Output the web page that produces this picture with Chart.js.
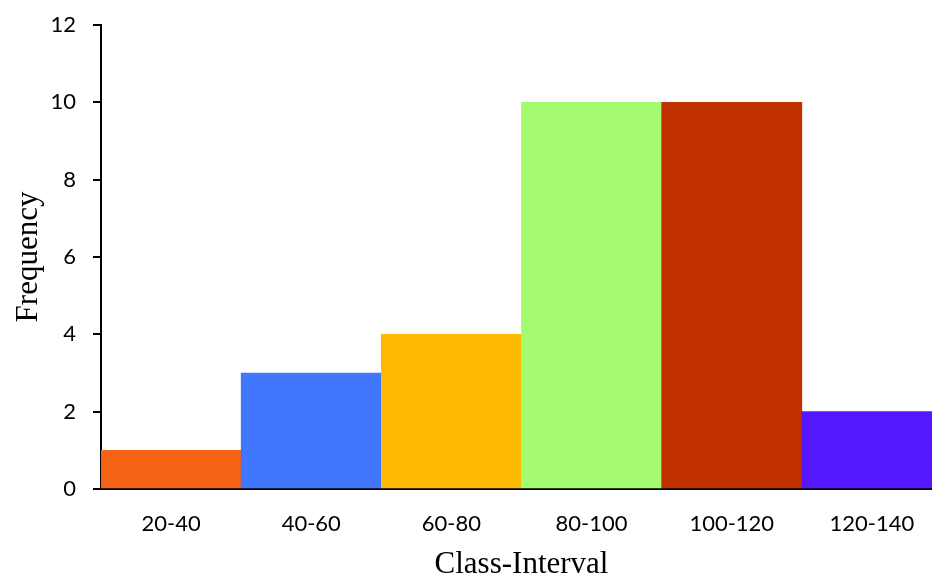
<!DOCTYPE html>
<html>
<head>
<meta charset="utf-8">
<script src="https://cdn.jsdelivr.net/npm/chart.js@4"></script>
<style>
  html, body { margin: 0; padding: 0; background: #fff; overflow: hidden; width: 932px; height: 577px; }
  #wrap { width: 942px; height: 577px; }
</style>
</head>
<body>
<div id="wrap"><canvas id="c" width="942" height="577"></canvas></div>
<script>
const categories = ['20-40', '40-60', '60-80', '80-100', '100-120', '120-140'];
const frequencies = [1, 3, 4, 10, 10, 2];
const barColors = ['#F46316', '#4177FE', '#FEB902', '#A5FB6F', '#C13100', '#5417FE'];
const yTicks = [0, 2, 4, 6, 8, 10, 12];

new Chart(document.getElementById('c'), {
  type: 'bar',
  data: {
    labels: categories,
    datasets: [{
      data: frequencies,
      backgroundColor: barColors,
      borderWidth: 0,
      barPercentage: 1,
      categoryPercentage: 1
    }]
  },
  options: {
    responsive: false,
    animation: false,
    layout: { padding: { top: 25, left: 0, right: 0, bottom: 0 } },
    plugins: { legend: { display: false }, tooltip: { enabled: false } },
    scales: {
      x: {
        offset: true,
        grid: { display: false, drawTicks: false },
        border: { display: true, color: '#000', width: 2 },
        ticks: { color: '#000', padding: 22, font: { family: 'Lato', size: 22 } },
        title: {
          display: true, text: 'Class-Interval', color: '#000',
          font: { family: 'Liberation Serif', size: 31, lineHeight: 0.8 },
          padding: { top: 0, bottom: 0 }
        },
        afterFit: s => { s.height = 88; s.paddingLeft = 0; s.paddingRight = 0; }
      },
      y: {
        min: 0, max: 12,
        afterBuildTicks: s => { s.ticks = yTicks.map(v => ({ value: v })); },
        grid: { display: true, drawOnChartArea: false, drawTicks: true, tickLength: 8, color: '#000', lineWidth: 2 },
        border: { display: true, color: '#000', width: 2 },
        ticks: { color: '#000', padding: 17, font: { family: 'Lato', size: 22 } },
        title: {
          display: true, text: 'Frequency', color: '#000',
          font: { family: 'Liberation Serif', size: 31 },
          padding: { top: 10, bottom: 0 }
        },
        afterFit: s => { s.width = 101; s.paddingTop = 0; s.paddingBottom = 0; }
      }
    }
  }
});
</script>
</body>
</html>
